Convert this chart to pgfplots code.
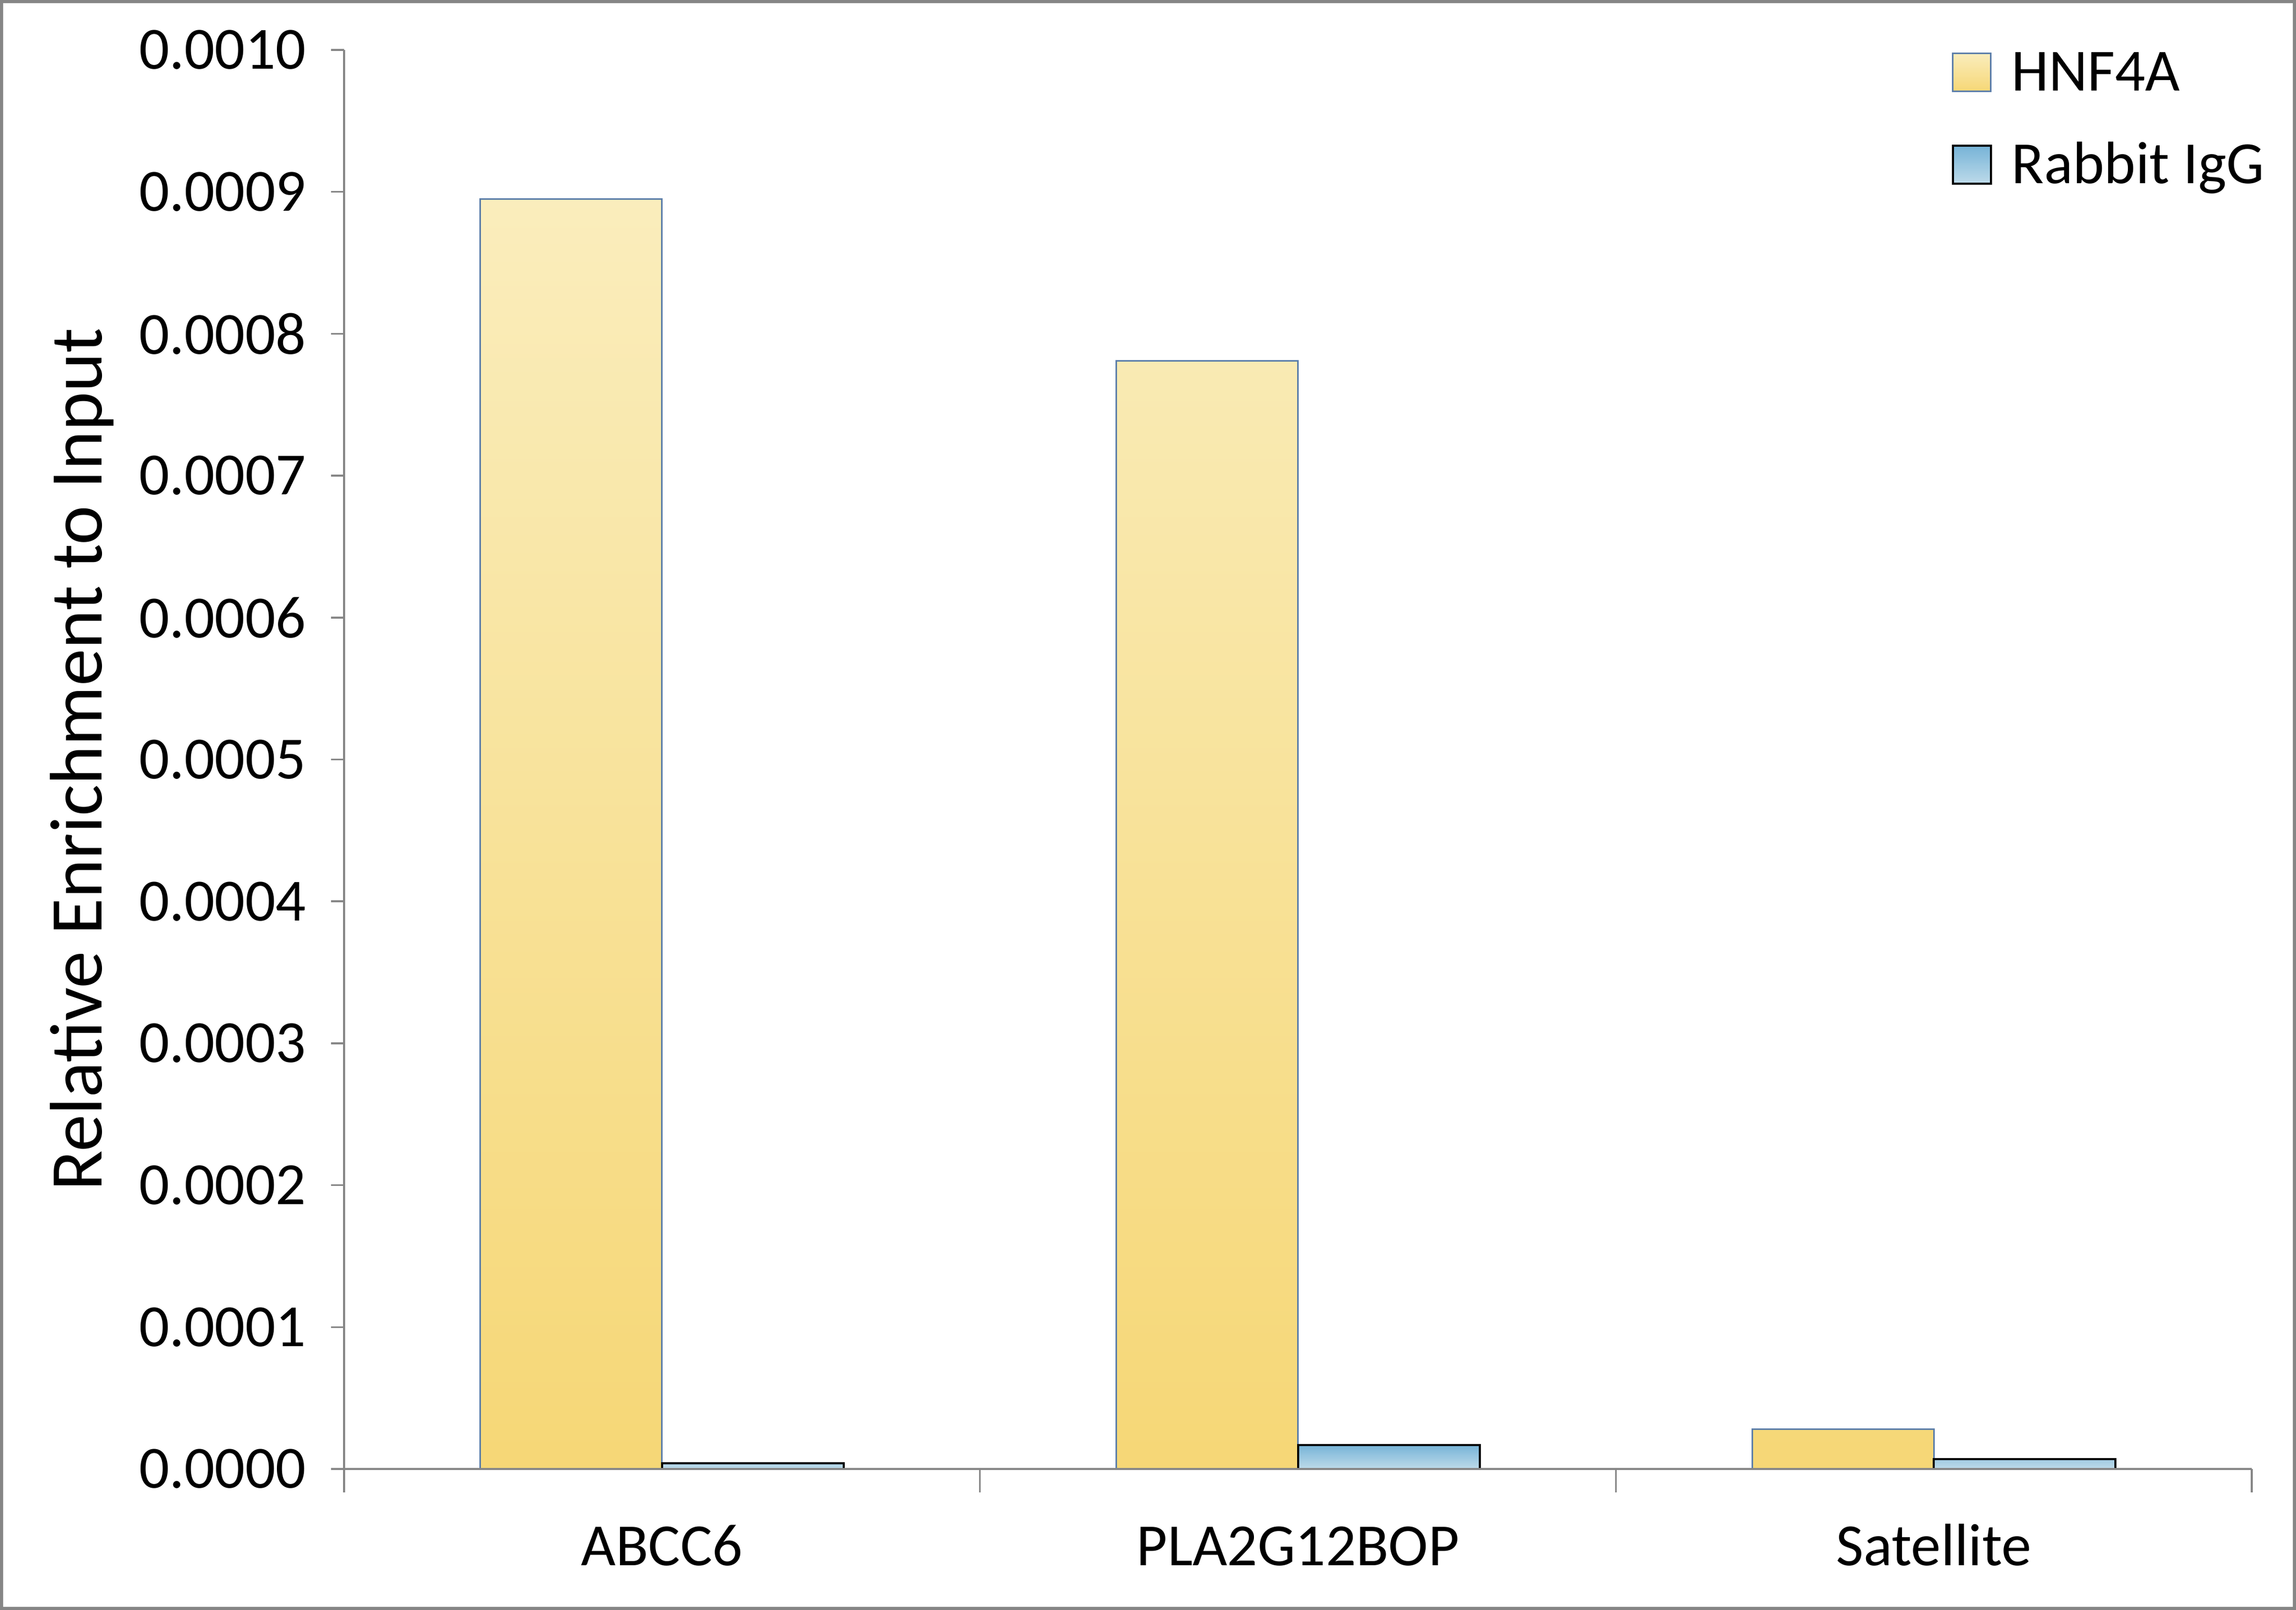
\documentclass[border=0pt]{standalone}
\usepackage{fontspec}
\setmainfont{Carlito}
\usepackage{pgfplots}
\pgfplotsset{compat=1.18}
\definecolor{axgray}{HTML}{868686}
\definecolor{hnfTop}{RGB}{250,237,188}
\definecolor{hnfBot}{RGB}{246,215,118}
\definecolor{hnfEdge}{RGB}{92,126,170}
\definecolor{iggTop}{RGB}{118,179,215}
\definecolor{iggBot}{RGB}{190,219,234}
\begin{document}
\begin{tikzpicture}
\useasboundingbox (0,0) rectangle (441.1bp,309.4bp);
\draw[axgray, line width=0.6bp] (0.3bp,0.3bp) rectangle (440.8bp,309.1bp);
\begin{axis}[
  at={(66.1bp,27.1bp)}, anchor=south west,
  scale only axis, width=366.5bp, height=272.7bp,
  xmin=-0.5, xmax=2.5, ymin=0, ymax=0.001,
  axis x line*=bottom, axis y line*=left,
  axis line style={draw=axgray, line width=0.35bp},
  axis on top,
  ybar,
  ytick={0,0.0001,0.0002,0.0003,0.0004,0.0005,0.0006,0.0007,0.0008,0.0009,0.001},
  scaled y ticks=false,
  yticklabel style={/pgf/number format/fixed, /pgf/number format/fixed zerofill, /pgf/number format/precision=4, /pgf/number format/assume math mode=true, xshift=-1.3bp},
  tick label style={font=\fontsize{11.5bp}{13bp}\selectfont},
  tick align=outside,
  major tick length=2.5bp,
  tick style={draw=axgray, line width=0.35bp},
  xtick={0,1,2},
  xticklabels={ABCC6,PLA2G12BOP,Satellite},
  xtick style={draw=none},
  xticklabel style={anchor=base, yshift=-16bp},
  extra x ticks={-0.5,0.5,1.5,2.5},
  extra x tick labels={},
  extra x tick style={xtick style={draw=axgray, line width=0.35bp}, major tick length=4.5bp, tick align=outside},
  ylabel={Relative Enrichment to Input},
  ylabel style={font=\fontsize{14.3bp}{16bp}\selectfont, at={(axis description cs:-0.1375,0.5)}, anchor=center},
  legend style={draw=none, fill=none, inner sep=0pt, outer sep=0pt, at={(axis description cs:0.8428,0.999)}, anchor=north west, font=\fontsize{11.5bp}{13bp}\selectfont, row sep=9.9bp, column sep=3.8bp, nodes={inner sep=0pt, text height=7.6bp, text depth=0pt}},
  legend cell align=left,
  legend image code/.code={\draw[#1] (0bp,-3.9bp) rectangle (7.3bp,3.4bp);},
]
\addplot[bar width=0.2857, bar shift=-0.14286, draw=hnfEdge, line width=0.3bp, top color=hnfTop, bottom color=hnfBot]
  coordinates {(0,0.000895) (1,0.000781) (2,0.0000282)};
\addlegendentry{HNF4A}
\addplot[bar width=0.2857, bar shift=0.14286, draw=black, line width=0.4bp, top color=iggTop, bottom color=iggBot]
  coordinates {(0,0.0000041) (1,0.0000170) (2,0.0000070)};
\addlegendentry{Rabbit IgG}
\end{axis}
\end{tikzpicture}
\end{document}
